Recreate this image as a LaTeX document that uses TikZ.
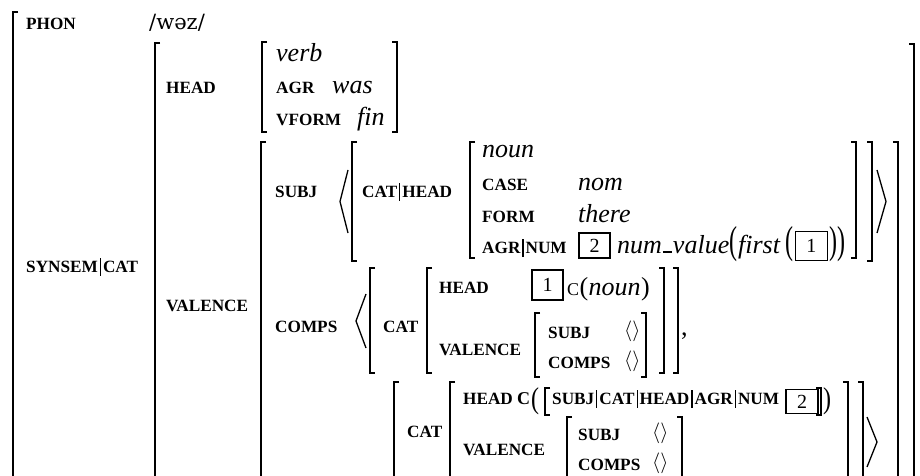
\documentclass[tikz,border=0pt]{standalone}
\usepackage{fontspec}
\usepackage{graphicx}
\setmainfont{Liberation Serif}
\newfontfamily\ipafont{DejaVu Serif}
\newcommand\vb{\hspace{2pt}\rule[-3.5pt]{1.2pt}{18pt}\hspace{2pt}}
\newcommand\lbrk[4][brk]{\draw[#1] (#2+5,#3) -- (#2,#3) -- (#2,#4) -- (#2+5,#4);}
\newcommand\rbrk[4][brk]{\draw[#1] (#2-5,#3) -- (#2,#3) -- (#2,#4) -- (#2-5,#4);}
\newcommand\tallp[1]{\scalebox{0.8}[1.3]{#1}}
\newcommand\midp[1]{\scalebox{0.8}[1.0]{#1}}
\begin{document}
\begin{tikzpicture}[x=1pt,y=-1pt,
  lab/.style={font=\fontsize{17.2}{20}\selectfont\bfseries, inner sep=0pt, anchor=base west},
  val/.style={font=\fontsize{26}{30}\selectfont\itshape, inner sep=0pt, anchor=base west},
  rm/.style={font=\fontsize{26}{30}\selectfont, inner sep=0pt, anchor=base west},
  bigp/.style={font=\fontsize{30}{30}\selectfont, inner sep=0pt, anchor=base west},
  tagbox/.style={draw, line width=1.6pt, inner sep=0pt, font=\fontsize{20}{20}\selectfont},
  emptyl/.style={font=\fontsize{20}{22}\selectfont, inner sep=0pt, anchor=base west},
  brk/.style={line width=1.8pt},
  sbrk/.style={line width=1.3pt},
  ang/.style={line width=1.3pt, line join=miter}]
\useasboundingbox (0,0) rectangle (920,476);
\clip (0,0) rectangle (920,476);
\fill[white] (0,0) rectangle (920,476);

% outer matrix
\lbrk{13}{12}{495}
\node[lab] (phon) at (26,30) {PHON};
\node[anchor=base west, inner sep=0pt, font=\ipafont\fontsize{21}{24}\selectfont] (phonv) at (149,30) {/wəz/};
\node[lab] (synsem) at (26,272) {SYNSEM\vb CAT};

% CAT matrix
\lbrk{155}{43}{495}
\rbrk{914}{44}{495}
\node[lab] (head) at (166,94) {HEAD};
\lbrk{262}{42}{132}
\rbrk{397}{42}{132}
\node[val] (verb) at (276,62) {verb};
\node[lab] (agr) at (276,94) {AGR};
\node[val] (was) at (332,94) {was};
\node[lab] (vform) at (276,125) {VFORM};
\node[val] (fin) at (357,125) {fin};

% VALENCE matrix
\node[lab] (valence) at (166,311) {VALENCE};
\lbrk{261}{142}{495}
\rbrk{898}{142}{495}

% SUBJ
\node[lab] (subj) at (275,197) {SUBJ};
\draw[ang] (348,170) -- (340,201.5) -- (348,233);
\lbrk{352}{142}{261}
\node[lab] (cathead) at (362,197) {CAT\vb HEAD};
\lbrk{470}{142}{258}
\rbrk{856}{142}{258}
\rbrk{872}{142}{261}
\draw[ang] (877,170) -- (886,201.5) -- (877,233);
\node[val] (noun) at (482,157) {noun};
\node[lab] (case) at (482,190) {CASE};
\node[val] (nom) at (578,190) {nom};
\node[lab] (form) at (482,222) {FORM};
\node[val] (there) at (578,222) {there};
\node[lab] (agrnum) at (482,253) {AGR\vb NUM};
\node[tagbox, minimum width=31pt, minimum height=25pt] (tagA) at (594.5,245.5) {2};
\node[val] (nv) at (617,253) {num\hspace{1pt}\rule[0.5pt]{9pt}{1.3pt}\hspace{1pt}value};
\node[bigp] (p1) at (nv.base east) {\tallp{(}};
\node[val] (fst) at (p1.base east) {first};
\node[bigp, xshift=5pt] (p2) at (fst.base east) {\tallp{(}};
\node[tagbox, minimum width=32pt, minimum height=29pt, anchor=west, xshift=1pt, yshift=7pt] (tagB) at (p2.base east) {1};
\node[bigp, xshift=1pt] (p3) at (tagB.east |- p2.base) {\tallp{)}\tallp{)}};

% COMPS
\node[lab] (comps) at (275,332) {COMPS};
\draw[ang] (366,294) -- (356,321) -- (366,348);
% first complement
\lbrk{370}{268}{373}
\node[lab] (cat1) at (383,332) {CAT};
\lbrk{427}{268}{373}
\node[lab] (head1) at (439,293) {HEAD};
\node[tagbox, minimum width=31pt, minimum height=30pt] (tagC) at (547.5,285) {1};
\node[anchor=base west, inner sep=0pt, font=\fontsize{18}{20}\selectfont] (cc1) at (567,295) {C};
\node[rm] (po1) at (cc1.base east) {(};
\node[val] (noun1) at (po1.base east) {noun};
\node[rm] (pc1) at (noun1.base east) {)};
\node[lab] (val1) at (439,355) {VALENCE};
\lbrk{535}{313}{377}
\node[lab] (s1) at (548,338) {SUBJ};
\node[emptyl] (e1) at (624,336) {$\langle\rangle$};
\node[lab] (c1) at (548,368) {COMPS};
\node[emptyl] (e2) at (624,366) {$\langle\rangle$};
\rbrk{646}{313}{377}
\rbrk{664}{268}{373}
\rbrk{678}{268}{373}
\node[rm] (comma) at (681,335) {,};

% second complement
\lbrk{394}{382}{495}
\node[lab] (cat2) at (407,437) {CAT};
\lbrk{450}{382}{495}
\node[lab] (head2) at (463,404) {HEAD};
\node[lab, font=\fontsize{18}{20}\selectfont\bfseries] (cc2) at (517,404) {C};
\node[bigp] (po2) at (531,408) {\midp{(}};
\lbrk[sbrk]{545}{388}{415}
\node[lab] (path) at (552,404) {SUBJ\vb CAT\vb HEAD\vb AGR\vb NUM};
\node[tagbox, minimum width=32pt, minimum height=24pt] (tagD) at (802,401.5) {2};
\rbrk[sbrk]{821}{388}{415}
\node[bigp] (pc2) at (823,408) {\midp{)}};
\rbrk{848}{382}{495}
\rbrk{863}{382}{495}
\draw[ang] (867,417) -- (877,442) -- (867,467);
\node[lab] (val2) at (463,455) {VALENCE};
\lbrk{567}{417}{495}
\node[lab] (s2) at (578,440) {SUBJ};
\node[emptyl] (e3) at (652,438) {$\langle\rangle$};
\node[lab] (c2) at (578,470) {COMPS};
\node[emptyl] (e4) at (652,468) {$\langle\rangle$};
\rbrk{682}{417}{495}
\end{tikzpicture}
\end{document}
